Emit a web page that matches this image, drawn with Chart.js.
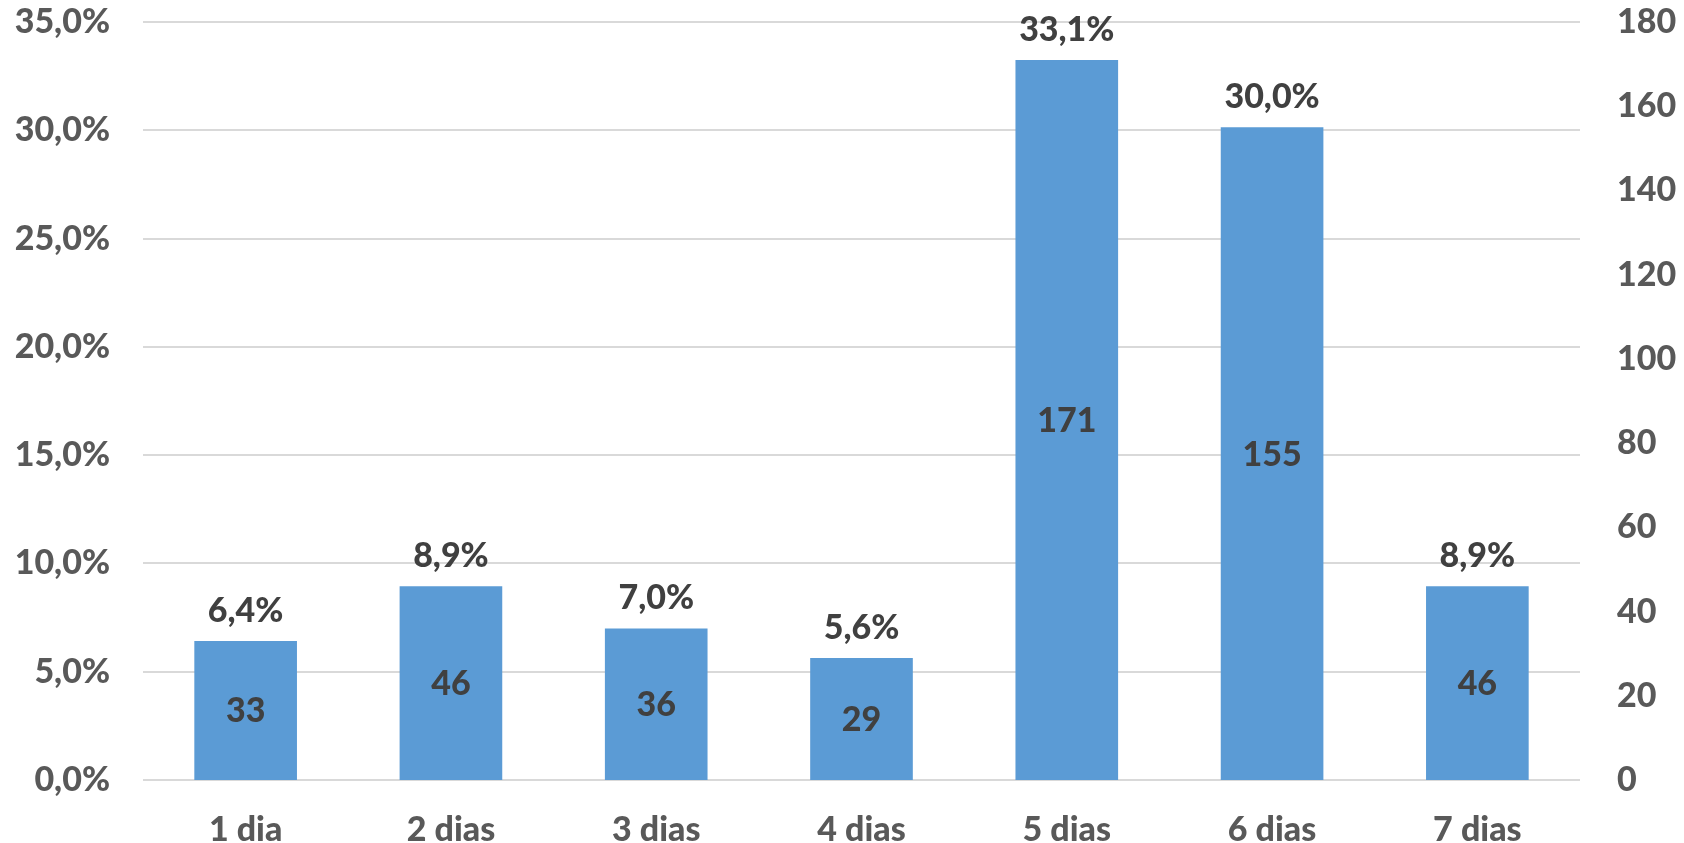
<!DOCTYPE html>
<html>
<head>
<meta charset="utf-8">
<script src="https://cdn.jsdelivr.net/npm/chart.js@4.4.1/dist/chart.umd.min.js"></script>
<style>
  html, body { margin: 0; padding: 0; background: #fff; }
  #wrap { width: 1684px; height: 843px; }
</style>
</head>
<body>
<div id="wrap"><canvas id="chart"></canvas></div>
<script>
var labels = ['1 dia', '2 dias', '3 dias', '4 dias', '5 dias', '6 dias', '7 dias'];
var counts = [33, 46, 36, 29, 171, 155, 46];
var percents = [6.4, 8.9, 7.0, 5.6, 33.1, 30.0, 8.9];

var FONT = 'Lato, "Open Sans", sans-serif';

function fmtPct(v) {
  return v.toFixed(1).replace('.', ',') + '%';
}

// draws the count in the middle of each bar and the percentage above it
var barLabels = {
  id: 'barLabels',
  afterDatasetsDraw: function (chart) {
    var ctx = chart.ctx;
    var meta = chart.getDatasetMeta(0);
    ctx.save();
    ctx.fillStyle = '#404040';
    ctx.font = '900 34px ' + FONT;
    ctx.textAlign = 'center';
    meta.data.forEach(function (bar, i) {
      ctx.textBaseline = 'middle';
      ctx.fillText(String(counts[i]), bar.x, (bar.y + bar.base) / 2 + 1);
      ctx.textBaseline = 'bottom';
      ctx.fillText(fmtPct(percents[i]), bar.x, bar.y - 13);
    });
    ctx.restore();
  }
};

var tickFont = { family: FONT, size: 34, weight: '900' };

var ctx = document.getElementById('chart').getContext('2d');
var myChart = new Chart(ctx, {
  type: 'bar',
  data: {
    labels: labels,
    datasets: [{
      label: 'Dias',
      data: counts,
      yAxisID: 'y1',
      backgroundColor: '#5b9bd5',
      borderWidth: 0,
      barPercentage: 0.5,
      categoryPercentage: 1.0
    }]
  },
  options: {
    responsive: true,
    maintainAspectRatio: false,
    animation: false,
    layout: { padding: 0 },
    plugins: {
      legend: { display: false },
      tooltip: { enabled: false }
    },
    scales: {
      x: {
        grid: { display: false, drawTicks: false },
        border: { display: false },
        ticks: { color: '#595959', padding: 30, font: tickFont },
        afterFit: function (s) { s.height = 63; }
      },
      y: {
        position: 'left',
        min: 0,
        max: 35,
        grid: { color: '#d9d9d9', lineWidth: 2, drawTicks: false },
        border: { display: false },
        ticks: {
          stepSize: 5,
          color: '#595959',
          padding: 33,
          font: tickFont,
          callback: function (v) { return v.toFixed(1).replace('.', ',') + '%'; }
        },
        afterFit: function (s) { s.width = 143; s.paddingTop = 22; }
      },
      y1: {
        position: 'right',
        min: 0,
        max: 180,
        grid: { display: false, drawTicks: false },
        border: { display: false },
        ticks: { stepSize: 20, color: '#595959', padding: 37, font: tickFont },
        afterFit: function (s) { s.width = 104; s.paddingTop = 22; }
      }
    }
  },
  plugins: [barLabels]
});
</script>
</body>
</html>
